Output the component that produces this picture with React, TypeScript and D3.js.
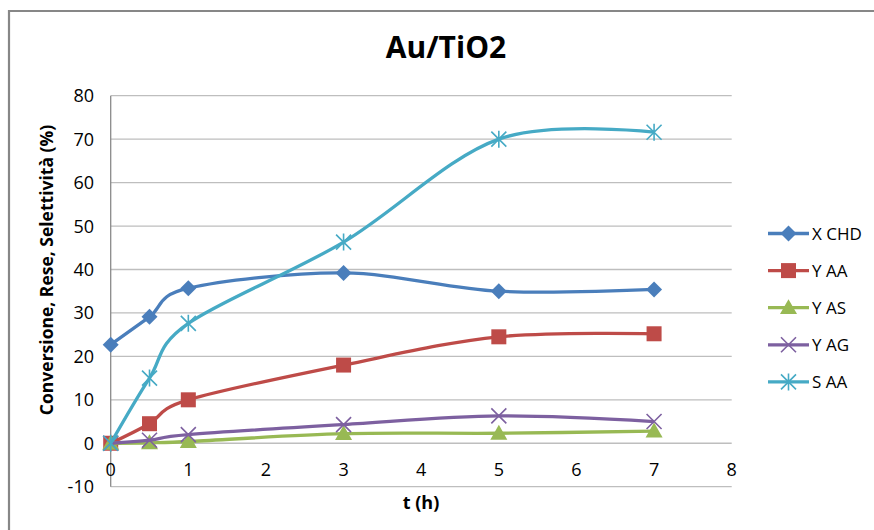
import React from "react";
import * as d3 from "d3";

const times = [0, 0.5, 1, 3, 5, 7];
const xChd = [22.7, 29.1, 35.7, 39.2, 35.0, 35.4];
const yAA = [0, 4.5, 10.0, 18.0, 24.5, 25.2];
const yAS = [0, 0.1, 0.4, 2.2, 2.3, 2.8];
const yAG = [0, 0.7, 2.0, 4.3, 6.3, 5.0];
const sAA = [0, 15.0, 27.6, 46.3, 70.0, 71.6];
const xTicks = [0, 1, 2, 3, 4, 5, 6, 7, 8];
const yTicks = [-10, 0, 10, 20, 30, 40, 50, 60, 70, 80];

const series = [
  { name: "X CHD", values: xChd, color: "#4a7ebb", marker: "diamond" },
  { name: "Y AA", values: yAA, color: "#be4b48", marker: "square" },
  { name: "Y AS", values: yAS, color: "#98b954", marker: "triangle" },
  { name: "Y AG", values: yAG, color: "#7d60a0", marker: "x" },
  { name: "S AA", values: sAA, color: "#46aac5", marker: "star" },
];

const FONT = "'Open Sans', 'Liberation Sans', sans-serif";

function Marker({ type, x, y, color }: { type: string; x: number; y: number; color: string }) {
  if (type === "diamond") {
    const r = 8;
    return <path d={`M${x},${y - r}L${x + r},${y}L${x},${y + r}L${x - r},${y}Z`} fill={color} />;
  }
  if (type === "square") {
    const r = 7.5;
    return <rect x={x - r} y={y - r} width={2 * r} height={2 * r} fill={color} />;
  }
  if (type === "triangle") {
    const r = 8.5;
    return <path d={`M${x},${y - r}L${x + r},${y + r * 0.75}L${x - r},${y + r * 0.75}Z`} fill={color} />;
  }
  if (type === "x") {
    const r = 7.5;
    return (
      <path d={`M${x - r},${y - r}L${x + r},${y + r}M${x - r},${y + r}L${x + r},${y - r}`} stroke={color} strokeWidth={1.6} fill="none" />
    );
  }
  const r = 7.5;
  return (
    <path
      d={`M${x - r},${y - r}L${x + r},${y + r}M${x - r},${y + r}L${x + r},${y - r}M${x},${y - r - 1}L${x},${y + r + 1}`}
      stroke={color}
      strokeWidth={1.6}
      fill="none"
    />
  );
}

export default function App() {
  const W = 874;
  const H = 530;
  const x = d3.scaleLinear().domain([0, 8]).range([110.7, 731.7]);
  const y = d3.scaleLinear().domain([-10, 80]).range([486.7, 95.7]);
  const line = d3
    .line<[number, number]>()
    .x((d) => x(d[0]))
    .y((d) => y(d[1]))
    .curve(d3.curveCatmullRom.alpha(0));

  const legendY0 = 233.5;
  const legendDy = 37.1;

  return (
    <svg width={W} height={H} style={{ position: "absolute", left: 0, top: 0 }}>
      <rect x={0} y={0} width={W} height={H} fill="#fff" />
      <path d={`M9,${H}L9,11L${W},11`} fill="none" stroke="#878787" strokeWidth={2.2} />
      <text x={446} y={58} textAnchor="middle" fontFamily={FONT} fontWeight="bold" fontSize={30} fill="#000">
        Au/TiO2
      </text>
      {yTicks.map((t) => (
        <line key={"g" + t} x1={x(0)} x2={x(8)} y1={y(t)} y2={y(t)} stroke="#bebebe" strokeWidth={1.3} />
      ))}
      <line x1={x(0)} x2={x(0)} y1={y(80)} y2={y(-10)} stroke="#8a8a8a" strokeWidth={1.3} />
      {yTicks.map((t) => (
        <text key={"yl" + t} x={94} y={y(t) + 6.5} textAnchor="end" fontFamily={FONT} fontSize={18} fill="#000">
          {t}
        </text>
      ))}
      {xTicks.map((t) => (
        <text key={"xl" + t} x={x(t)} y={475.5} textAnchor="middle" fontFamily={FONT} fontSize={18} fill="#000">
          {t}
        </text>
      ))}
      <text x={421} y={509} textAnchor="middle" fontFamily={FONT} fontWeight="bold" fontSize={18} fill="#000">
        t (h)
      </text>
      <text
        transform={`translate(53,270) rotate(-90)`}
        textAnchor="middle"
        fontFamily={FONT}
        fontWeight="bold"
        fontSize={17.5}
        fill="#000"
      >
        Conversione, Rese, Selettività (%)
      </text>
      {series.map((s) => {
        const pts = times.map((t, i) => [t, s.values[i]] as [number, number]);
        return (
          <g key={s.name}>
            <path d={line(pts) || ""} fill="none" stroke={s.color} strokeWidth={3.3} strokeLinejoin="round" />
            {pts.map((p, i) => (
              <Marker key={i} type={s.marker} x={x(p[0])} y={y(p[1])} color={s.color} />
            ))}
          </g>
        );
      })}
      {series.map((s, i) => {
        const ly = legendY0 + i * legendDy;
        return (
          <g key={"lg" + s.name}>
            <line x1={768} x2={809} y1={ly} y2={ly} stroke={s.color} strokeWidth={3.3} />
            <Marker type={s.marker} x={788.5} y={ly} color={s.color} />
            <text x={812} y={ly + 6} fontFamily={FONT} fontSize={17} fill="#000">
              {s.name}
            </text>
          </g>
        );
      })}
    </svg>
  );
}
